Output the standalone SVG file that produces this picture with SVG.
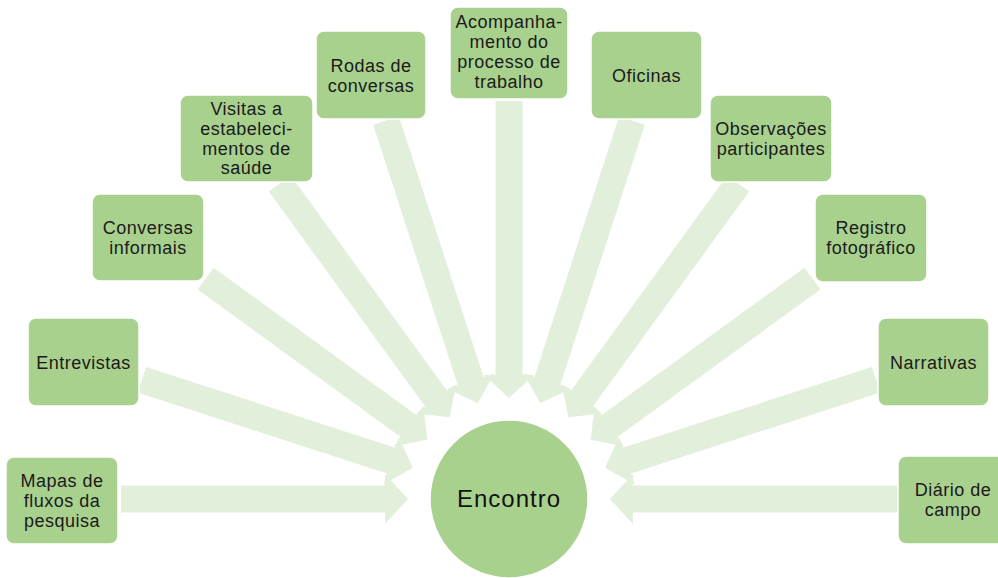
<svg xmlns="http://www.w3.org/2000/svg" width="998" height="578" viewBox="0 0 998 578">
<style>
.arr{fill:#e2efda;stroke:none}
.box{fill:#a9d18e;stroke:#ffffff;stroke-width:1.5}
.t{font-family:"Liberation Sans",Arial,sans-serif;font-size:18px;letter-spacing:0.5px;fill:#1a1a1a;text-anchor:middle}
.c{font-family:"Liberation Sans",Arial,sans-serif;font-size:24px;letter-spacing:1px;fill:#111111;text-anchor:middle}
</style>
<rect width="998" height="578" fill="#ffffff"/>
<g id="connectors" transform="translate(509 499)">
<path class="arr" transform="rotate(-180)" d="M388 -13.5 L124 -13.5 L124 -25 L101 0 L124 25 L124 13.5 L388 13.5 Z"/>
<path class="arr" transform="rotate(-162)" d="M386 -13.5 L124 -13.5 L124 -25 L101 0 L124 25 L124 13.5 L386 13.5 Z"/>
<path class="arr" transform="rotate(-144)" d="M375 -13.5 L124 -13.5 L124 -25 L101 0 L124 25 L124 13.5 L375 13.5 Z"/>
<path class="arr" transform="rotate(-126)" d="M390 -13.5 L124 -13.5 L124 -25 L101 0 L124 25 L124 13.5 L390 13.5 Z"/>
<path class="arr" transform="rotate(-108)" d="M398 -13.5 L124 -13.5 L124 -25 L101 0 L124 25 L124 13.5 L398 13.5 Z"/>
<path class="arr" transform="rotate(-90)" d="M398 -13.5 L124 -13.5 L124 -25 L101 0 L124 25 L124 13.5 L398 13.5 Z"/>
<path class="arr" transform="rotate(-72)" d="M398 -13.5 L124 -13.5 L124 -25 L101 0 L124 25 L124 13.5 L398 13.5 Z"/>
<path class="arr" transform="rotate(-54)" d="M390 -13.5 L124 -13.5 L124 -25 L101 0 L124 25 L124 13.5 L390 13.5 Z"/>
<path class="arr" transform="rotate(-36)" d="M375 -13.5 L124 -13.5 L124 -25 L101 0 L124 25 L124 13.5 L375 13.5 Z"/>
<path class="arr" transform="rotate(-18)" d="M386 -13.5 L124 -13.5 L124 -25 L101 0 L124 25 L124 13.5 L386 13.5 Z"/>
<path class="arr" d="M388 -13.5 L124 -13.5 L124 -25 L101 0 L124 25 L124 13.5 L388 13.5 Z"/>
</g>
<g id="encontro">
<circle cx="509" cy="499" r="79" fill="#a9d18e" stroke="#ffffff" stroke-width="1.5"/>
<text class="c" x="509" y="507">Encontro</text>
</g>
<g id="mapas">
<rect class="box" x="6" y="457" width="112" height="87" rx="8"/>
<text class="t" x="62" y="487">Mapas de</text>
<text class="t" x="62" y="507">fluxos da</text>
<text class="t" x="62" y="527">pesquisa</text>
</g>
<g id="entrevistas">
<rect class="box" x="28" y="318" width="111" height="88" rx="8"/>
<text class="t" x="83.5" y="369">Entrevistas</text>
</g>
<g id="conversas">
<rect class="box" x="92" y="194" width="112" height="87" rx="8"/>
<text class="t" x="148" y="234">Conversas</text>
<text class="t" x="148" y="254">informais</text>
</g>
<g id="visitas">
<rect class="box" x="180" y="95" width="133" height="87" rx="8"/>
<text class="t" x="246.5" y="115">Visitas a</text>
<text class="t" x="246.5" y="135">estabeleci-</text>
<text class="t" x="246.5" y="155">mentos de</text>
<text class="t" x="246.5" y="174">saúde</text>
</g>
<g id="rodas">
<rect class="box" x="316" y="31" width="110" height="88" rx="8"/>
<text class="t" x="371" y="72">Rodas de</text>
<text class="t" x="371" y="92">conversas</text>
</g>
<g id="acompanhamento">
<rect class="box" x="450" y="7" width="118" height="92" rx="8"/>
<text class="t" x="509" y="28">Acompanha-</text>
<text class="t" x="509" y="48">mento do</text>
<text class="t" x="509" y="68">processo de</text>
<text class="t" x="509" y="88">trabalho</text>
</g>
<g id="oficinas">
<rect class="box" x="591" y="31" width="111" height="88" rx="8"/>
<text class="t" x="646.5" y="82">Oficinas</text>
</g>
<g id="observacoes">
<rect class="box" x="710" y="95" width="122" height="87" rx="8"/>
<text class="t" x="771" y="135">Observações</text>
<text class="t" x="771" y="155">participantes</text>
</g>
<g id="registro">
<rect class="box" x="815" y="194" width="112" height="88" rx="8"/>
<text class="t" x="871" y="234">Registro</text>
<text class="t" x="871" y="254">fotográfico</text>
</g>
<g id="narrativas">
<rect class="box" x="878" y="318" width="111" height="88" rx="8"/>
<text class="t" x="933.5" y="369">Narrativas</text>
</g>
<g id="diario">
<rect class="box" x="898" y="456" width="112" height="88" rx="8"/>
<text class="t" x="953" y="496">Diário de</text>
<text class="t" x="953" y="516">campo</text>
</g>
</svg>
